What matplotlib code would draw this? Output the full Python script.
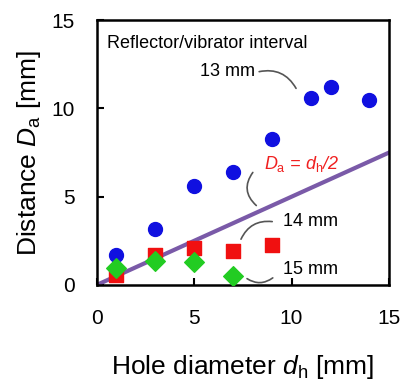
import matplotlib.pyplot as plt

plt.rcParams['font.family'] = ['Liberation Sans', 'DejaVu Sans']
plt.rcParams['mathtext.fontset'] = 'custom'
plt.rcParams['mathtext.it'] = 'Liberation Sans:italic'
plt.rcParams['mathtext.rm'] = 'Liberation Sans'

# data
hole_d = [1, 3, 5, 7, 9, 11, 12, 14]
da_13mm = [1.7, 3.15, 5.6, 6.4, 8.25, 10.6, 11.2, 10.5]
hole_d_14 = [1, 3, 5, 7, 9]
da_14mm = [0.57, 1.7, 2.1, 1.9, 2.25]
hole_d_15 = [1, 3, 5, 7]
da_15mm = [0.98, 1.36, 1.32, 0.51]
line_x = [0, 15]
line_y = [0, 7.5]

fig = plt.figure(figsize=(4.01, 3.81), dpi=100)
ax = fig.add_axes([0.241, 0.252, 0.729, 0.695])

ax.plot(line_x, line_y, color='#7a5aa8', lw=3.0, zorder=2)
ax.scatter(hole_d, da_13mm, s=100, marker='o', color='#1010e0', zorder=3)
ax.scatter(hole_d_14, da_14mm, s=90, marker='s', color='#f01010', zorder=3)
ax.scatter(hole_d_15, da_15mm, s=100, marker='D', color='#22cc22', zorder=4)

ax.set_xlim(0, 15)
ax.set_ylim(0, 15)
ax.set_xticks([0, 5, 10, 15])
ax.set_yticks([0, 5, 10, 15])
ax.tick_params(direction='in', length=5, width=1.5, labelsize=15)
ax.tick_params(axis='x', pad=17)
ax.tick_params(axis='y', pad=16)
for s in ax.spines.values():
    s.set_linewidth(1.8)

ax.set_xlabel(r'Hole diameter $d_\mathrm{h}$ [mm]', fontsize=19, labelpad=18)
ax.set_ylabel(r'Distance $D_\mathrm{a}$ [mm]', fontsize=19, labelpad=6)

ax.text(0.55, 13.7, 'Reflector/vibrator interval', fontsize=13, va='center')
ax.text(5.3, 12.1, '13 mm', fontsize=13, va='center')
ax.text(8.6, 6.85, r'$D_\mathrm{a}$ = $d_\mathrm{h}$/2', fontsize=13, va='center',
        color='#f02020', style='italic')
ax.text(9.55, 3.6, '14 mm', fontsize=13, va='center')
ax.text(9.55, 0.85, '15 mm', fontsize=13, va='center')

curve = dict(arrowstyle='-', color='#555555', lw=1.2)
ax.annotate('', xy=(10.3, 11.0), xytext=(8.2, 12.05),
            arrowprops=dict(curve, connectionstyle='arc3,rad=-0.4'))
ax.annotate('', xy=(8.3, 4.4), xytext=(8.1, 6.5),
            arrowprops=dict(curve, connectionstyle='arc3,rad=0.5'))
ax.annotate('', xy=(7.35, 2.45), xytext=(9.15, 3.57),
            arrowprops=dict(curve, connectionstyle='arc3,rad=0.4'))
ax.annotate('', xy=(9.15, 0.5), xytext=(7.6, 0.45),
            arrowprops=dict(curve, connectionstyle='arc3,rad=0.4'))

fig.savefig('out.png', dpi=100)
